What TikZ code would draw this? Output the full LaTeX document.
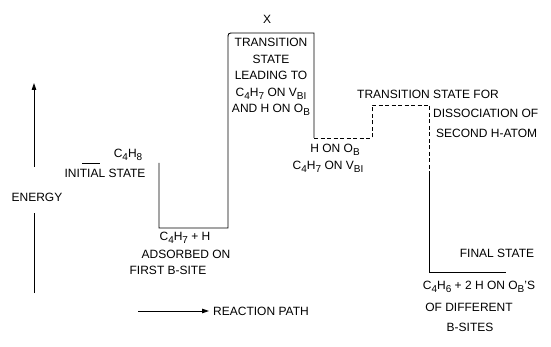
\documentclass[tikz,border=0pt]{standalone}
\usepackage{fontspec}
\setmainfont{Liberation Sans}
\usetikzlibrary{arrows.meta}
\newcommand\sbs[1]{\raisebox{-0.5ex}{\fontsize{10}{10}\selectfont #1}}
\begin{document}
\begin{tikzpicture}[x=1pt,y=-1pt,
  lbl/.style={font=\fontsize{12}{16.5}\selectfont, inner sep=0pt},
  lvl/.style={line width=0.85pt},
  dsh/.style={line width=0.85pt, dash pattern=on 4pt off 2.5pt},
  arr/.style={line width=0.85pt, -{Triangle[length=7pt,width=4.5pt]}}]
\useasboundingbox (0,0) rectangle (551,347);
% level coordinates
\coordinate (i0) at (82,163);
\coordinate (ib) at (100,163);
\coordinate (i1) at (159,163);
\coordinate (a1) at (159,228);
\coordinate (a2) at (228,228);
\coordinate (t1) at (228,33);
\coordinate (t2) at (314,33);
\coordinate (m1) at (314,138);
\coordinate (m2) at (372,138);
\coordinate (d1) at (372,105);
\coordinate (d2) at (429,105);
\coordinate (d3) at (429,172);
\coordinate (f1) at (429,272);
\coordinate (f2) at (506,272);
% energy profile
\draw[lvl] (i0) -- (ib);
\draw[lvl] (i1) -- (a1) -- (a2) -- ([yshift=-6pt]t1) .. controls (t1) .. ([xshift=6pt]t1) -- (t2) -- (m1);
\draw[dsh] (m1) -- (m2) -- (d1) -- (d2) -- (d3);
\draw[lvl] (d3) -- (f1) -- (f2);
% energy axis
\coordinate (e0) at (34,293);
\coordinate (e1) at (34,213);
\coordinate (e2) at (34,167);
\coordinate (e3) at (34,83);
\draw[lvl] (e0) -- (e1);
\draw[arr] (e2) -- (e3);
\node[lbl] (energy) at (37,197) {ENERGY};
% reaction path
\coordinate (r0) at (138,311);
\coordinate (r1) at (209,311);
\draw[arr] (r0) -- (r1);
\node[lbl, anchor=west] (rpath) at (213,311) {REACTION PATH};
% labels
\node[lbl] (c4h8) at (128,155) {C\sbs{4}H\sbs{8}};
\node[lbl] (init) at (105,173) {INITIAL STATE};
\node[lbl] (x) at (267,19) {X};
\node[lbl, align=center] (ts) at (271,77) {TRANSITION\\STATE\\LEADING TO\\C\sbs{4}H\sbs{7} ON V\sbs{BI}\\AND H ON O\sbs{B}};
\node[lbl] (ads1) at (185,238) {C\sbs{4}H\sbs{7} + H};
\node[lbl] (ads2) at (186,254) {ADSORBED ON};
\node[lbl] (ads3) at (168,270) {FIRST B-SITE};
\node[lbl] (hon) at (335,150) {H ON O\sbs{B}};
\node[lbl] (c4h7) at (328,167) {C\sbs{4}H\sbs{7} ON V\sbs{BI}};
\node[lbl, anchor=west] (ts2a) at (357,94) {TRANSITION STATE FOR};
\node[lbl, anchor=west] (ts2b) at (433,113) {DISSOCIATION OF};
\node[lbl, anchor=west] (ts2c) at (436,133) {SECOND H-ATOM};
\node[lbl] (fin) at (497,253) {FINAL STATE};
\node[lbl] (fin2) at (479,287) {C\sbs{4}H\sbs{6} + 2 H ON O\sbs{B}'S};
\node[lbl] (fin3) at (469,307) {OF DIFFERENT};
\node[lbl] (fin4) at (470,327) {B-SITES};
\end{tikzpicture}
\end{document}
